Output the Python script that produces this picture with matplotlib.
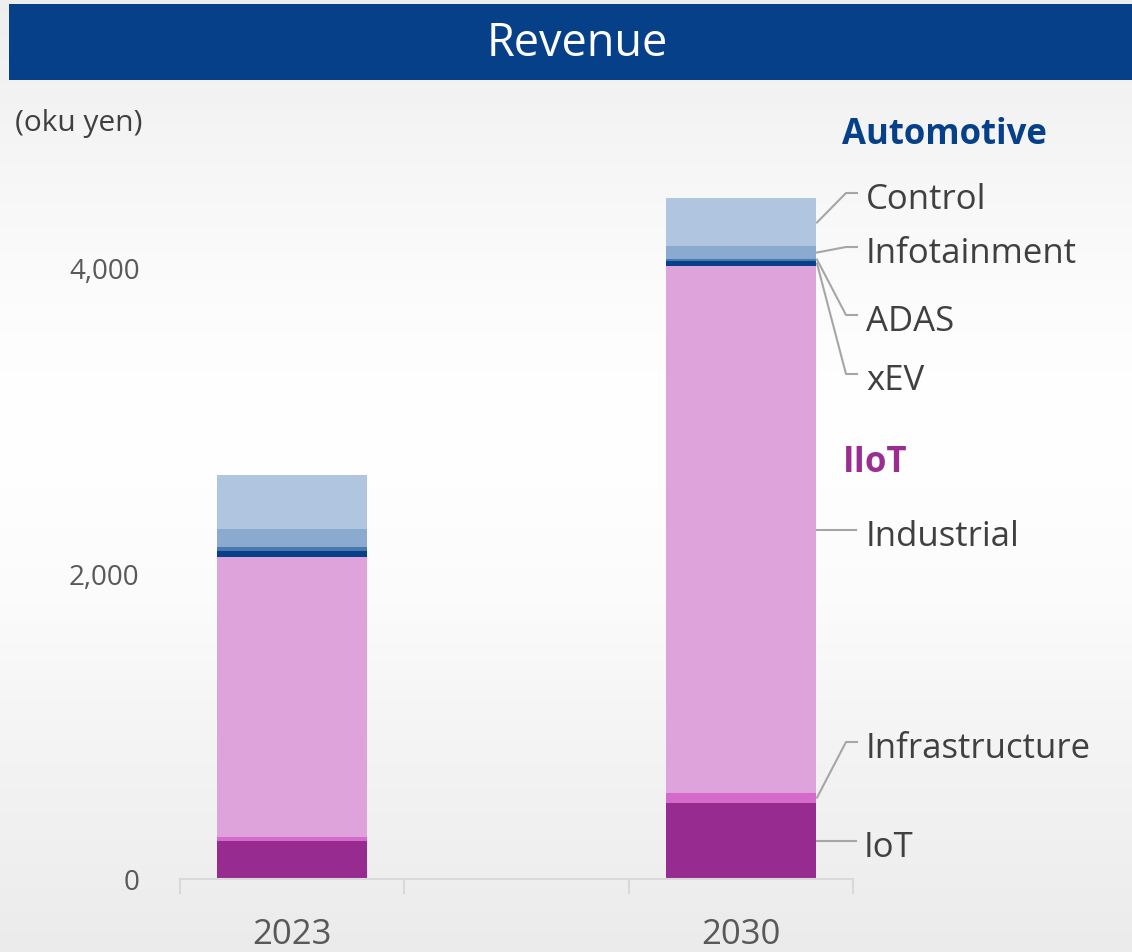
import numpy as np
import matplotlib
matplotlib.use("Agg")
import matplotlib.pyplot as plt
from matplotlib.patches import Rectangle
from matplotlib.lines import Line2D
from matplotlib.ticker import FuncFormatter

# ---------------- data ----------------
categories = ["2023", "2030"]
iot = [250, 500]
infrastructure = [25, 65]
industrial = [1835, 3445]
xev = [39, 39]
adas = [26, 13]
infotainment = [118, 79]
control = [354, 314]

series_names = ["IoT", "Infrastructure", "Industrial", "xEV", "ADAS", "Infotainment", "Control"]
series_values = [iot, infrastructure, industrial, xev, adas, infotainment, control]
series_colors = ["#982B90", "#D46BCB", "#DFA3DC", "#064089", "#4A77AE", "#8AAAD0", "#B0C5E0"]

ytick_values = [0, 2000, 4000]

# ---------------- figure ----------------
W, H = 1132, 953
plt.rcParams["font.family"] = ["Open Sans", "DejaVu Sans"]
fig = plt.figure(figsize=(W / 100, H / 100), dpi=100)

def fx(x):
    return x / W

def fy(y):
    return 1 - y / H

# background gradient
bg = fig.add_axes([0, 0, 1, 1], zorder=-10)
ys = np.arange(H)
stops_y = [0, 90, 200, 350, 450, 600, 750, 880, 953]
stops_v = [0.935, 0.950, 0.972, 0.995, 1.0, 0.985, 0.955, 0.935, 0.922]
g = np.interp(ys, stops_y, stops_v)
img = np.repeat(g[:, None], 4, axis=1)
bg.imshow(np.dstack([img, img, img]), aspect="auto", extent=[0, 1, 0, 1], origin="upper")
bg.axis("off")

# title bar
fig.add_artist(Rectangle((fx(9), fy(81)), fx(W - 9), (81 - 5) / H,
                         transform=fig.transFigure, facecolor="#064089", edgecolor="none"))
fig.text(fx(577), fy(44), "Revenue", color="white", fontsize=32.5,
         ha="center", va="center")

# main axes
ax_left, ax_right = 180, 853
y0_px, y5000_px = 880, 880 - 5000 * 0.15275
ax = fig.add_axes([fx(ax_left), fy(y0_px), (ax_right - ax_left) / W, (y0_px - y5000_px) / H])
ax.set_facecolor("none")
ax.set_xlim(-0.5, 2.5)
ax.set_ylim(0, 5000)

pos = np.arange(len(categories)) * 2
bw = 0.67
bottom = np.zeros(len(categories))
for name, vals, col in zip(series_names, series_values, series_colors):
    ax.bar(pos, vals, bw, bottom=bottom, color=col, edgecolor="none", label=name)
    bottom += np.array(vals)

for s in ["top", "left", "right"]:
    ax.spines[s].set_visible(False)
ax.spines["bottom"].set_color("#D9D9D9")
ax.spines["bottom"].set_linewidth(1.5)

ax.set_xticks(pos)
ax.set_xticklabels(categories, fontsize=25, color="#595959")
ax.tick_params(axis="x", which="major", length=0, pad=27)
ax.set_xticks([-0.5, 0.5, 1.5, 2.5], minor=True)
ax.tick_params(axis="x", which="minor", length=11, width=1.5, color="#D9D9D9", direction="out")

ax.set_yticks(ytick_values)
ax.yaxis.set_major_formatter(FuncFormatter(lambda v, p: f"{int(v):,}"))
ax.tick_params(axis="y", length=0, pad=29, labelsize=20, labelcolor="#595959")

fig.text(fx(15), fy(123), "(oku yen)", fontsize=21.5, color="#404040", ha="left", va="center")

# group headers
fig.text(fx(842), fy(135), "Automotive", fontsize=25, fontweight="bold", color="#064089",
         ha="left", va="center")
fig.text(fx(843), fy(463), "IIoT", fontsize=25, fontweight="bold", color="#9B2D91",
         ha="left", va="center")

# leader lines and labels for the 2030 bar
fig.canvas.draw()
last = len(categories) - 1
cum = np.cumsum([v[last] for v in series_values])
starts = np.concatenate([[0], cum[:-1]])
mids = (starts + cum) / 2
label_line_y = {"IoT": 842, "Infrastructure": 743, "Industrial": 530, "xEV": 375,
                "ADAS": 316, "Infotainment": 248, "Control": 194}
inv = fig.transFigure.inverted()
for name, m in zip(series_names, mids):
    disp = ax.transData.transform((pos[last] + bw / 2, m))
    ax_pt = inv.transform(disp)
    ax_x = ax_pt[0] + fx(1)
    ly = label_line_y[name]
    if name in ("IoT", "Industrial"):
        xs = [ax_x, fx(856)]
        yv = [ax_pt[1], ax_pt[1]]
        text_y_px = (1 - ax_pt[1]) * H + 6
    else:
        xs = [ax_x, fx(846), fx(857)]
        yv = [ax_pt[1], fy(ly), fy(ly)]
        text_y_px = ly + 6
    fig.add_artist(Line2D(xs, yv, transform=fig.transFigure, color="#A6A6A6", lw=1.5))
    tx = 864 if name == "IoT" else 866
    fig.text(fx(tx), fy(text_y_px), name, fontsize=25, color="#404040", ha="left", va="center")

fig.savefig("out.png", dpi=100)
